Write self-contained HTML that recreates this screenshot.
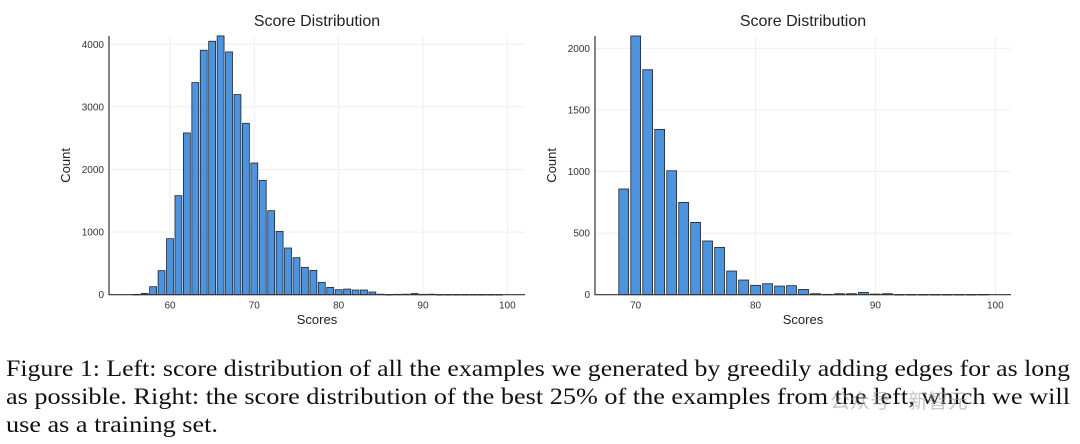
<!DOCTYPE html>
<html><head><meta charset="utf-8"><style>
html,body{margin:0;padding:0;background:#fff;width:1080px;height:444px;overflow:hidden}
svg{display:block}
.tk{font-family:"Liberation Sans",sans-serif;font-size:10px;fill:#333}
.ttl{font-family:"Liberation Sans",sans-serif;font-size:16px;fill:#222}
.al{font-family:"Liberation Sans",sans-serif;font-size:13px;fill:#222}
.cap{font-family:"Liberation Serif",serif;font-size:23px;fill:#111}
</style></head><body>
<svg id="fig" width="1080" height="444">
<g id="left"></g>
<g id="right"></g>
<g>
<text class="cap" x="6" y="376" textLength="1064" lengthAdjust="spacingAndGlyphs">Figure 1: Left: score distribution of all the examples we generated by greedily adding edges for as long</text>
<text class="cap" x="6" y="404" textLength="1064" lengthAdjust="spacingAndGlyphs">as possible. Right: the score distribution of the best 25% of the examples from the left, which we will</text>
<text class="cap" x="6" y="432" textLength="212" lengthAdjust="spacingAndGlyphs">use as a training set.</text>
</g>
<text x="830" y="408" style="font-family:'Liberation Sans','Noto Sans CJK SC',sans-serif;font-size:20px;fill:#999;opacity:0.55">公众号 · 新智元</text>
</svg>
<script>
const leftCategories=[56,57,58,59,60,61,62,63,64,65,66,67,68,69,70,71,72,73,74,75,76,77,78,79,80,81,82,83,84,85,86,87,88,89,90,91,92,93,94,95,96,97,98,99];
const leftCounts=[5,20,128,384,895,1582,2584,3388,3905,4049,4134,3878,3197,2738,2104,1827,1342,1012,746,591,437,389,197,117,80,90,75,75,43,8,3,6,8,18,6,8,2,2,2,2,2,2,2,2];
const leftYTicks=[0,1000,2000,3000,4000];
const leftXTicks=[60,70,80,90,100];
const rightCategories=[69,70,71,72,73,74,75,76,77,78,79,80,81,82,83,84,85,86,87,88,89,90,91,92,93,94,95,96,97,98,99];
const rightCounts=[858,2100,1826,1342,1006,749,587,436,384,192,119,76,89,70,73,43,8,3,8,8,19,5,8,1,1,1,1,1,1,1,2];
const rightYTicks=[0,500,1000,1500,2000];
const rightXTicks=[70,80,90,100];
const NS="http://www.w3.org/2000/svg";
function mk(p,t,a){const e=document.createElementNS(NS,t);for(const k in a)e.setAttribute(k,a[k]);p.appendChild(e);return e;}
function draw(g,cfg){
  const {x0,x1,y0,y1,xmin,xmax,ymax,cats,vals,yt,xt}=cfg;
  const sx=v=>x0+(v-xmin)/(xmax-xmin)*(x1-x0);
  const sy=v=>y0-(v/ymax)*(y0-y1);
  yt.forEach(t=>{const l=mk(g,'line',{x1:x0,x2:x1,y1:sy(t),y2:sy(t),stroke:'#eee','stroke-width':1});
    
    
    const tx=mk(g,'text',{x:x0-5,y:sy(t)+3.5,'text-anchor':'end',class:'tk'});tx.textContent=t;
    
    });
  xt.forEach(t=>{const l=mk(g,'line',{x1:sx(t),x2:sx(t),y1:y1,y2:y0,stroke:'#eee','stroke-width':1});
    
    
    const tx=mk(g,'text',{x:sx(t),y:y0+14,'text-anchor':'middle',class:'tk'});tx.textContent=t;
    
    });
  const bw=(sx(1)-sx(0))*0.82;
  cats.forEach((c,i)=>{const h=y0-sy(vals[i]);
    const r=mk(g,'rect',{x:sx(c)-bw/2,y:sy(vals[i]),width:bw,height:Math.max(h,0.5),fill:'#4a94e4',stroke:'#222','stroke-width':0.8});
    
    });
  const ax=mk(g,'path',{d:`M${x0},${y1}V${y0}H${x1}`,stroke:'#333','stroke-width':1.2,fill:'none'});
  
  
  const ti=mk(g,'text',{x:(x0+x1)/2,y:26,'text-anchor':'middle',class:'ttl'});ti.textContent='Score Distribution';
  
  
  const xl=mk(g,'text',{x:(x0+x1)/2,y:324,'text-anchor':'middle',class:'al'});xl.textContent='Scores';
  
  
  const yl=mk(g,'text',{x:0,y:0,'text-anchor':'middle',class:'al',transform:`translate(${cfg.ylx},${(y0+y1)/2}) rotate(-90)`});yl.textContent='Count';
  
  
}
draw(document.getElementById('left'),{x0:109,x1:525,y0:294.7,y1:36,xmin:60-61/8.4325,xmax:60+(525-170)/8.4325,ymax:4000*(294.7-36)/(294.7-44.3),cats:leftCategories,vals:leftCounts,yt:leftYTicks,xt:leftXTicks,ylx:70});
draw(document.getElementById('right'),{x0:595,x1:1011,y0:294.7,y1:36,xmin:70-(635.7-595)/11.987,xmax:70+(1011-635.7)/11.987,ymax:2000*(294.7-36)/(294.7-48.3),cats:rightCategories,vals:rightCounts,yt:rightYTicks,xt:rightXTicks,ylx:556});
</script>
</body></html>
